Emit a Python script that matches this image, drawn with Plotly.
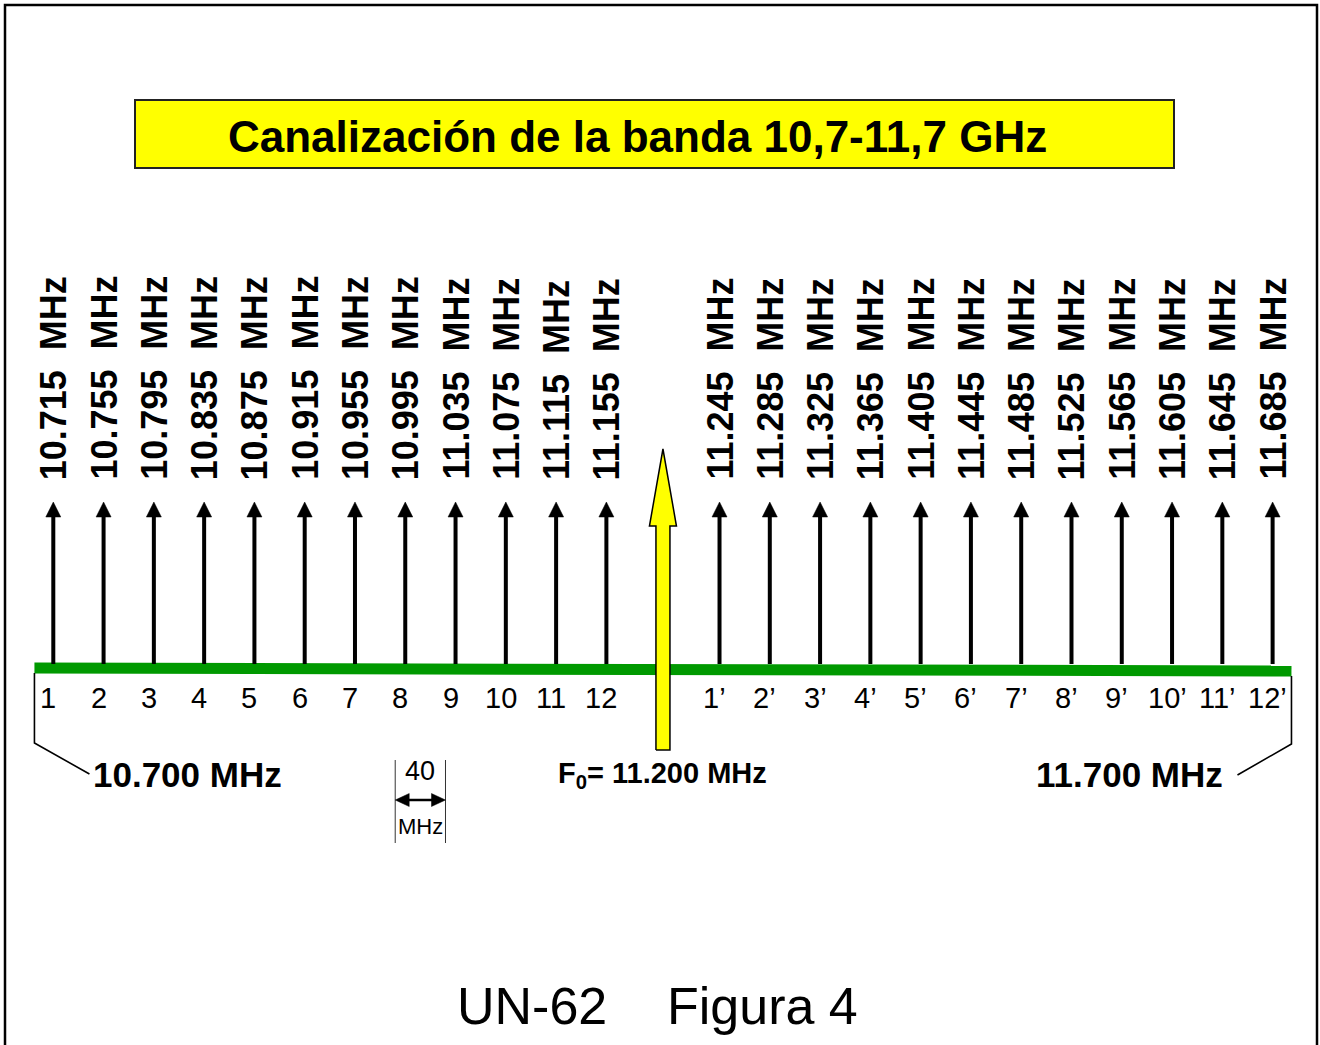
import plotly.graph_objects as go

# ---------------- data ----------------
lower_freqs = [10715, 10755, 10795, 10835, 10875, 10915, 10955, 10995, 11035, 11075, 11115, 11155]
upper_freqs = [11245, 11285, 11325, 11365, 11405, 11445, 11485, 11525, 11565, 11605, 11645, 11685]
lower_labels = ["1", "2", "3", "4", "5", "6", "7", "8", "9", "10", "11", "12"]
upper_labels = ["1\u2019", "2\u2019", "3\u2019", "4\u2019", "5\u2019", "6\u2019", "7\u2019", "8\u2019", "9\u2019", "10\u2019", "11\u2019", "12\u2019"]
f0 = 11200
band = [10700, 11700]
spacing = 40
dim_start = 10987
title_text = "Canalización de la banda 10,7-11,7 GHz"
footer_left = "UN-62"
footer_right = "Figura 4"

# ---------------- layout helpers ----------------
W, H = 1320, 1045
X0, X1 = 10672.6, 11722.7
PX = W / (X1 - X0)          # pixels per MHz


def dx(px):
    return px / PX


SANS = "Liberation Sans, Arial, sans-serif"

freqs = lower_freqs + upper_freqs
labels = lower_labels + upper_labels

fig = go.Figure()

# green band line
fig.add_trace(go.Scatter(x=band, y=[668, 671], mode="lines",
                         line=dict(color="#009900", width=11), hoverinfo="skip"))

# channel arrows: shafts
sx, sy = [], []
for f in freqs:
    sx += [f, f, None]
    sy += [664, 512, None]
fig.add_trace(go.Scatter(x=sx, y=sy, mode="lines",
                         line=dict(color="black", width=4), hoverinfo="skip"))

# channel arrows: heads
hx, hy = [], []
for f in freqs:
    hx += [f - dx(7.5), f, f + dx(7.5), f - dx(7.5), None]
    hy += [517, 502, 517, 517, None]
fig.add_trace(go.Scatter(x=hx, y=hy, mode="lines", fill="toself",
                         fillcolor="black", line=dict(color="black", width=0.5),
                         hoverinfo="skip"))

# central yellow arrow (F0)
yx = [f0 - dx(7), f0 - dx(7), f0 - dx(13.5), f0, f0 + dx(13.5), f0 + dx(7), f0 + dx(7), f0 - dx(7)]
yy = [750, 526, 526, 449, 526, 526, 750, 750]
fig.add_trace(go.Scatter(x=yx, y=yy, mode="lines", fill="toself",
                         fillcolor="#FFFF00", line=dict(color="black", width=1.5),
                         hoverinfo="skip"))

# band brackets
fig.add_trace(go.Scatter(x=[band[0], band[0], band[0] + dx(55), None,
                            band[1], band[1], band[1] - dx(54)],
                         y=[673, 743, 774, None, 676, 744, 775],
                         mode="lines", line=dict(color="black", width=1.6),
                         hoverinfo="skip"))

# 40 MHz dimension
d0, d1 = dim_start, dim_start + spacing
fig.add_trace(go.Scatter(x=[d0, d0, None, d1, d1], y=[760, 843, None, 760, 843],
                         mode="lines", line=dict(color="#333333", width=1),
                         hoverinfo="skip"))
fig.add_trace(go.Scatter(x=[d0 + dx(10), d1 - dx(10)], y=[800, 800], mode="lines",
                         line=dict(color="black", width=2.5), hoverinfo="skip"))
fig.add_trace(go.Scatter(x=[d0, d0 + dx(14), d0 + dx(14), d0, None,
                            d1, d1 - dx(14), d1 - dx(14), d1],
                         y=[800, 793.5, 806.5, 800, None, 800, 793.5, 806.5, 800],
                         mode="lines", fill="toself", fillcolor="black",
                         line=dict(color="black", width=0.5), hoverinfo="skip"))

ann = []
# frequency labels (rotated)
for f in freqs:
    ann.append(dict(x=f, y=482, xref="x", yref="y",
                    text="<b>" + f"{f/1000:.3f}" + "\u00a0\u00a0MHz</b>",
                    textangle=-90, showarrow=False, xanchor="center", yanchor="bottom",
                    font=dict(family=SANS, size=36, color="black")))
# channel numbers
for f, lab in zip(freqs, labels):
    ann.append(dict(x=f, y=698, xref="x", yref="y", text=lab, showarrow=False,
                    xanchor="center", yanchor="middle", xshift=-5,
                    font=dict(family=SANS, size=29, color="black")))

# band edge labels
ann.append(dict(x=band[0] + dx(57), y=774, xref="x", yref="y",
                text="<b>" + f"{band[0]:,}".replace(",", ".") + " MHz</b>",
                showarrow=False, xanchor="left", yanchor="middle",
                font=dict(family=SANS, size=35, color="black")))
ann.append(dict(x=band[1] - dx(66), y=774, xref="x", yref="y",
                text="<b>" + f"{band[1]:,}".replace(",", ".") + " MHz</b>",
                showarrow=False, xanchor="right", yanchor="middle",
                font=dict(family=SANS, size=35, color="black")))
ann.append(dict(x=f0, y=775, xref="x", yref="y",
                text="<b>F<sub>0</sub>= " + f"{f0:,}".replace(",", ".") + " MHz</b>",
                showarrow=False, xanchor="center", yanchor="middle",
                font=dict(family=SANS, size=29, color="black")))

# dimension texts
ann.append(dict(x=(d0 + d1) / 2, y=771, xref="x", yref="y", text=str(spacing),
                showarrow=False, xanchor="center", yanchor="middle",
                font=dict(family=SANS, size=27, color="black")))
ann.append(dict(x=(d0 + d1) / 2, y=826, xref="x", yref="y", text="MHz",
                showarrow=False, xanchor="center", yanchor="middle",
                font=dict(family=SANS, size=22, color="black")))

# title
ann.append(dict(x=637 / W, y=136, xref="paper", yref="y", text="<b>" + title_text + "</b>",
                showarrow=False, xanchor="center", yanchor="middle",
                font=dict(family=SANS, size=44, color="black")))

# footer
ann.append(dict(x=532 / W, y=1006, xref="paper", yref="y", text=footer_left,
                showarrow=False, xanchor="center", yanchor="middle",
                font=dict(family=SANS, size=52, color="black")))
ann.append(dict(x=762 / W, y=1006, xref="paper", yref="y", text=footer_right,
                showarrow=False, xanchor="center", yanchor="middle",
                font=dict(family=SANS, size=52, color="black")))

shapes = [
    # outer frame
    dict(type="rect", xref="paper", yref="y", x0=5 / W, x1=1317 / W, y0=5, y1=1080,
         line=dict(color="black", width=2.5), fillcolor="rgba(0,0,0,0)", layer="below"),
    # title box
    dict(type="rect", xref="paper", yref="y", x0=135 / W, x1=1174 / W, y0=100, y1=168,
         line=dict(color="#222222", width=2), fillcolor="#FFFF00", layer="below"),
]

fig.update_layout(
    width=W, height=H,
    margin=dict(l=0, r=0, t=0, b=0),
    paper_bgcolor="white", plot_bgcolor="white",
    showlegend=False,
    xaxis=dict(range=[X0, X1], visible=False, fixedrange=True),
    yaxis=dict(range=[H, 0], visible=False, fixedrange=True),
    annotations=ann, shapes=shapes,
)

fig.write_html("out.html", config={"displayModeBar": False, "staticPlot": True},
               post_script="document.body.style.margin='0';document.body.style.overflow='hidden';")
